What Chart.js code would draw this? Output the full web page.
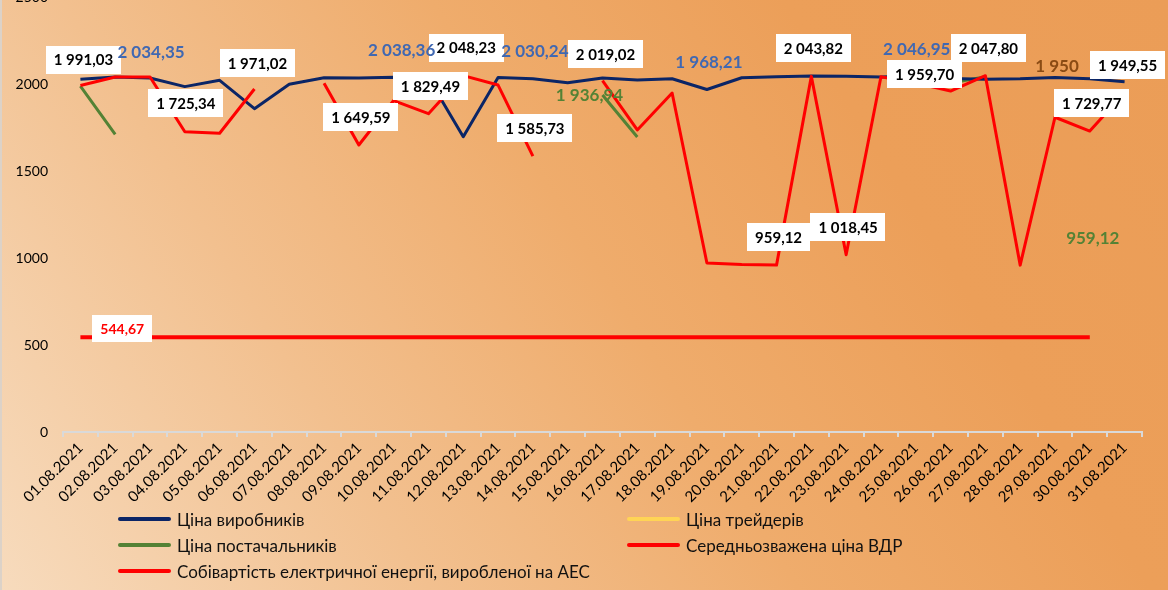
<!DOCTYPE html>
<html>
<head>
<meta charset="utf-8">
<script src="https://cdn.jsdelivr.net/npm/chart.js@4"></script>
<style>
    html, body { margin: 0; padding: 0; width: 1168px; height: 590px; overflow: hidden; }
    body {
        position: relative;
        font-family: Lato, "Noto Sans", sans-serif;
        background: linear-gradient(58deg, #f7dbbd 0%, #f2c08f 28%, #efac6c 52%, #ec9f59 75%, #eb9d57 100%);
        border-left: 2px solid #dcd2c8;
        box-sizing: border-box;
    }
    #wrap { position: absolute; left: -2px; top: -20px; width: 1168px; height: 542px; }
    #legend {
        position: absolute; left: 116px; top: 508px;
        display: grid; grid-template-columns: 509px 400px; row-gap: 4px;
        font-size: 17px; color: #111;
    }
    .item { display: flex; align-items: center; height: 22px; white-space: nowrap; }
    .swatch { width: 53px; height: 4px; border-radius: 2px; margin-right: 6px; }
</style>
</head>
<body>
<div id="wrap"><canvas id="chart"></canvas></div>
<div id="legend"></div>
<script>
// дати
const dates = [
    "01.08.2021","02.08.2021","03.08.2021","04.08.2021","05.08.2021","06.08.2021","07.08.2021","08.08.2021",
    "09.08.2021","10.08.2021","11.08.2021","12.08.2021","13.08.2021","14.08.2021","15.08.2021","16.08.2021",
    "17.08.2021","18.08.2021","19.08.2021","20.08.2021","21.08.2021","22.08.2021","23.08.2021","24.08.2021",
    "25.08.2021","26.08.2021","27.08.2021","28.08.2021","29.08.2021","30.08.2021","31.08.2021"
];

// Ціна виробників
const producerPrice = [
    2027, 2040, 2034.35, 1985, 2021, 1858, 1998, 2036, 2034, 2038.36, 2034,
    1697, 2038, 2030.24, 2007, 2034, 2023, 2030, 1968.21, 2036, 2042,
    2046, 2044, 2040, 2046.95, 2032, 2028, 2030, 2038, 2030, 2013
];

// Ціна трейдерів
const traderPrice = [
    null, null, null, null, null, null, null, null, null, null, null,
    null, null, null, null, null, null, null, null, null, null,
    null, null, null, null, null, null, null, 1950, null, null
];

// Ціна постачальників
const supplierPrice = [
    1988, 1711, null, null, null, null, null, null, null, null, null,
    null, null, null, null, 1936.94, 1695, null, null, null, null,
    null, null, null, null, 2005, 2042, null, null, 959.12, null
];

// Середньозважена ціна ВДР
const vdrPrice = [
    1991.03, 2040, 2040, 1725.34, 1717, 1971.02, null, 2004, 1649.59, 1905, 1829.49,
    2048.23, 1994, 1585.73, null, 2019.02, 1736, 1948, 971, 962, 959.12,
    2043.82, 1018.45, 2042, 2005, 1959.70, 2047.80, 959, 1809, 1729.77, 1949.55
];

// Собівартість електричної енергії, виробленої на АЕС
const aesCost = [
    544.67, 544.67, 544.67, 544.67, 544.67, 544.67, 544.67, 544.67, 544.67, 544.67, 544.67,
    544.67, 544.67, 544.67, 544.67, 544.67, 544.67, 544.67, 544.67, 544.67, 544.67,
    544.67, 544.67, 544.67, 544.67, 544.67, 544.67, 544.67, 544.67, 544.67, null
];

const yTicks = [0, 500, 1000, 1500, 2000, 2500];

const seriesNames = [
    "Ціна виробників",
    "Ціна трейдерів",
    "Ціна постачальників",
    "Середньозважена ціна ВДР",
    "Собівартість електричної енергії, виробленої на АЕС"
];
const seriesColors = ["#0b2566", "#ffd455", "#548235", "#ff0000", "#ff0000"];

// підписи даних: набір, точка, зсув, рамка, колір
const dataLabels = [
    { ds: 3, i: 0, dx: 3, dy: -26, box: true },
    { ds: 3, i: 3, dx: 1, dy: -29, box: true },
    { ds: 3, i: 5, dx: 3, dy: -26, box: true },
    { ds: 3, i: 8, dx: 2, dy: -28, box: true },
    { ds: 3, i: 10, dx: 2, dy: -28, box: true },
    { ds: 3, i: 11, dx: 3, dy: -28, box: true },
    { ds: 3, i: 13, dx: 2, dy: -28, box: true },
    { ds: 3, i: 15, dx: 3, dy: -27, box: true },
    { ds: 3, i: 20, dx: 2, dy: -28, box: true },
    { ds: 3, i: 21, dx: 2, dy: -28, box: true },
    { ds: 3, i: 22, dx: 2, dy: -28, box: true },
    { ds: 3, i: 25, dx: -26, dy: -17, box: true },
    { ds: 3, i: 26, dx: 3, dy: -28, box: true },
    { ds: 3, i: 29, dx: 2, dy: -28, box: true },
    { ds: 3, i: 30, dx: 3, dy: -28, box: true },
    { ds: 0, i: 2, dx: 1, dy: -27, color: "#4068b2", size: 17 },
    { ds: 0, i: 9, dx: 8, dy: -28, color: "#4068b2", size: 17 },
    { ds: 0, i: 13, dx: 2, dy: -28, color: "#4068b2", size: 17 },
    { ds: 0, i: 18, dx: 2, dy: -28, color: "#4068b2", size: 17 },
    { ds: 0, i: 24, dx: 1, dy: -27, color: "#4068b2", size: 17 },
    { ds: 2, i: 15, dx: -13, dy: 0, color: "#548235", size: 17 },
    { ds: 2, i: 29, dx: 3, dy: -28, color: "#548235", size: 17 },
    { ds: 1, i: 28, dx: 2, dy: -27, color: "#8a4b14", dec: 0, size: 17 },
    { ds: 4, i: 1, dx: 7, dy: -9, box: true, color: "#ff0000", size: 14 }
];

function fmt(v, dec) {
    const parts = v.toFixed(dec).split(".");
    const int = parts[0].replace(/\B(?=(\d{3})+(?!\d))/g, " ");
    return dec ? int + "," + parts[1] : int;
}

const labelPlugin = {
    id: "valueLabels",
    afterDatasetsDraw(chart) {
        const ctx = chart.ctx;
        ctx.save();
        ctx.textAlign = "center";
        ctx.textBaseline = "middle";
        dataLabels.forEach(l => {
            const pt = chart.getDatasetMeta(l.ds).data[l.i];
            const value = chart.data.datasets[l.ds].data[l.i];
            if (!pt || value == null) return;
            const text = fmt(value, l.dec === undefined ? 2 : l.dec);
            const size = l.size || 15;
            ctx.font = "bold " + size + "px Lato, 'Noto Sans', sans-serif";
            const x = pt.x + l.dx;
            const y = pt.y + l.dy;
            if (l.box) {
                const w = ctx.measureText(text).width + 16;
                const h = size + 13;
                ctx.fillStyle = "#ffffff";
                ctx.fillRect(Math.round(x - w / 2), Math.round(y - h / 2), Math.round(w), h);
            }
            ctx.fillStyle = l.color || "#000000";
            ctx.fillText(text, x, y + 1);
        });
        ctx.restore();
    }
};

const allSeries = [producerPrice, traderPrice, supplierPrice, vdrPrice, aesCost];
const drawOrder = [1, 3, 2, 0, 4];
const widths = [3, 3, 3, 3, 4];

const datasets = allSeries.map((data, k) => ({
    label: seriesNames[k],
    data: data,
    borderColor: seriesColors[k],
    backgroundColor: seriesColors[k],
    borderWidth: widths[k],
    pointRadius: 0,
    pointHoverRadius: 0,
    tension: 0,
    spanGaps: false,
    borderCapStyle: "butt",
    borderJoinStyle: "round",
    order: drawOrder[k],
    fill: false
}));

const chart = new Chart(document.getElementById("chart"), {
    type: "line",
    data: { labels: dates, datasets: datasets },
    options: {
        responsive: true,
        maintainAspectRatio: false,
        animation: false,
        layout: { padding: { top: 17, right: 26, left: 0, bottom: 0 } },
        plugins: {
            legend: { display: false },
            tooltip: { enabled: false }
        },
        scales: {
            x: {
                offset: true,
                grid: {
                    offset: true,
                    drawOnChartArea: false,
                    drawTicks: true,
                    tickLength: 5,
                    color: "#d9d9d9",
                    lineWidth: 2
                },
                border: { display: true, color: "#d9d9d9", width: 2 },
                ticks: {
                    autoSkip: false,
                    maxRotation: 45,
                    minRotation: 45,
                    padding: 2,
                    color: "#000",
                    font: { family: "Lato, 'Noto Sans', sans-serif", size: 15 }
                },
                afterFit(scale) { scale.height = 90; }
            },
            y: {
                min: 0,
                max: 2500,
                afterBuildTicks(scale) { scale.ticks = yTicks.map(v => ({ value: v })); },
                grid: { display: false, drawTicks: false },
                border: { display: false },
                ticks: {
                    padding: 15,
                    color: "#000",
                    font: { family: "Lato, 'Noto Sans', sans-serif", size: 14 },
                    callback: v => String(v)
                },
                afterFit(scale) {
                    scale.width = 63;
                    scale.paddingTop = 0;
                    scale.paddingBottom = 0;
                }
            }
        }
    },
    plugins: [labelPlugin]
});

// легенда
const legend = document.getElementById("legend");
seriesNames.forEach((name, k) => {
    const item = document.createElement("div");
    item.className = "item";
    const sw = document.createElement("span");
    sw.className = "swatch";
    sw.style.background = seriesColors[k];
    const txt = document.createElement("span");
    txt.textContent = name;
    item.appendChild(sw);
    item.appendChild(txt);
    legend.appendChild(item);
});
</script>
</body>
</html>
